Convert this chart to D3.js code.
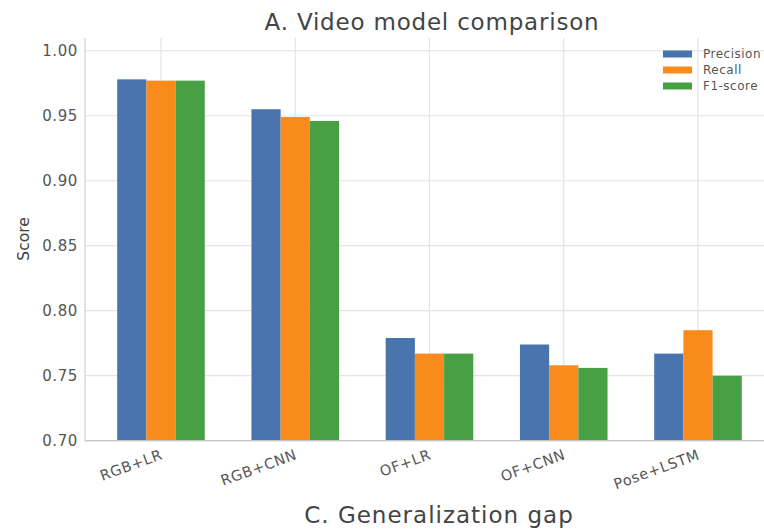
<!DOCTYPE html>
<html>
<head>
<meta charset="utf-8">
<script src="https://cdn.jsdelivr.net/npm/d3@7"></script>
<style>
  html, body { margin: 0; padding: 0; background: #fff; }
  svg { display: block; }
</style>
</head>
<body>
<svg id="chart" width="764" height="529"></svg>
<script>
const categories = ["RGB+LR", "RGB+CNN", "OF+LR", "OF+CNN", "Pose+LSTM"];
const seriesNames = ["Precision", "Recall", "F1-score"];
const precision = [0.978, 0.955, 0.779, 0.774, 0.767];
const recall    = [0.977, 0.949, 0.767, 0.758, 0.785];
const f1score   = [0.977, 0.946, 0.767, 0.756, 0.750];
const yTicks = [0.70, 0.75, 0.80, 0.85, 0.90, 0.95, 1.00];
const colors = ["#4a74ad", "#f98a1c", "#47a043"];

(function () {
const seriesValues = [precision, recall, f1score];
const svg = d3.select("#chart");

const pLeft = 85, pRight = 778, pTop = 38, pBottom = 440.7;
const x = d3.scaleLinear().domain([-0.566, 4.596]).range([pLeft, pRight]);
const y = d3.scaleLinear().domain([0.70, 1.0098]).range([pBottom, pTop]);
const barW = 0.2175;

// grid
const g = svg.append("g");
g.selectAll("line.hg").data(yTicks).enter().append("line")
  .attr("x1", pLeft).attr("x2", pRight)
  .attr("y1", d => y(d)).attr("y2", d => y(d))
  .attr("stroke", "#e3e3e3").attr("stroke-width", 1.2);
g.selectAll("line.vg").data(categories).enter().append("line")
  .attr("x1", (d, i) => x(i)).attr("x2", (d, i) => x(i))
  .attr("y1", pTop).attr("y2", pBottom)
  .attr("stroke", "#e3e3e3").attr("stroke-width", 1.2);

// bars
seriesValues.forEach((vals, s) => {
  svg.append("g").selectAll("rect").data(vals).enter().append("rect")
    .attr("x", (d, i) => x(i + (s - 1) * barW - barW / 2))
    .attr("width", x(barW) - x(0))
    .attr("y", d => y(d))
    .attr("height", d => y(0.70) - y(d))
    .attr("fill", colors[s]);
});

// spines
svg.append("line").attr("x1", pLeft).attr("x2", pLeft).attr("y1", pTop).attr("y2", pBottom)
  .attr("stroke", "#d0d0d0").attr("stroke-width", 1.2);
svg.append("line").attr("x1", pLeft).attr("x2", pRight).attr("y1", pBottom).attr("y2", pBottom)
  .attr("stroke", "#c4c4c4").attr("stroke-width", 1.2);

// y axis labels
const yAxis = d3.axisLeft(y).tickValues(yTicks).tickFormat(d3.format(".2f")).tickSize(0).tickPadding(7);
const ya = svg.append("g").attr("transform", `translate(${pLeft},0)`).call(yAxis);
ya.select(".domain").remove();
ya.selectAll("text").attr("font-family", "DejaVu Sans").attr("font-size", 15)
  .attr("letter-spacing", 0.6).attr("fill", "#555");

// x axis labels
const xAxis = d3.axisBottom(x).tickValues(d3.range(categories.length)).tickFormat(i => categories[i]).tickSize(0);
const xa = svg.append("g").attr("transform", `translate(0,${pBottom})`).call(xAxis);
xa.select(".domain").remove();
xa.selectAll("text")
  .attr("font-family", "DejaVu Sans").attr("font-size", 14.5).attr("fill", "#555")
  .attr("letter-spacing", 0.6)
  .attr("text-anchor", "end")
  .attr("dy", null).attr("y", null)
  .attr("transform", "translate(2,18) rotate(-20)");

// y label
svg.append("text").attr("transform", "translate(29,239) rotate(-90)")
  .attr("text-anchor", "middle").attr("font-family", "DejaVu Sans").attr("font-size", 15.5)
  .attr("fill", "#444").text("Score");

// title
svg.append("text").attr("x", 432).attr("y", 29.5).attr("text-anchor", "middle")
  .attr("font-family", "DejaVu Sans").attr("font-size", 23).attr("letter-spacing", 0.8)
  .attr("fill", "#444").text("A. Video model comparison");

// bottom caption
svg.append("text").attr("x", 439).attr("y", 522.5).attr("text-anchor", "middle")
  .attr("font-family", "DejaVu Sans").attr("font-size", 23).attr("letter-spacing", 1)
  .attr("fill", "#444").text("C. Generalization gap");

// legend
const lg = svg.append("g");
seriesNames.forEach((n, s) => {
  const cy = 54 + s * 16;
  lg.append("rect").attr("x", 663).attr("y", cy - 3.5).attr("width", 29).attr("height", 7).attr("fill", colors[s]);
  lg.append("text").attr("x", 703).attr("y", cy + 4)
    .attr("font-family", "DejaVu Sans").attr("font-size", 12).attr("letter-spacing", 0.5)
    .attr("fill", "#555").text(n);
});
})();
</script>
</body>
</html>
